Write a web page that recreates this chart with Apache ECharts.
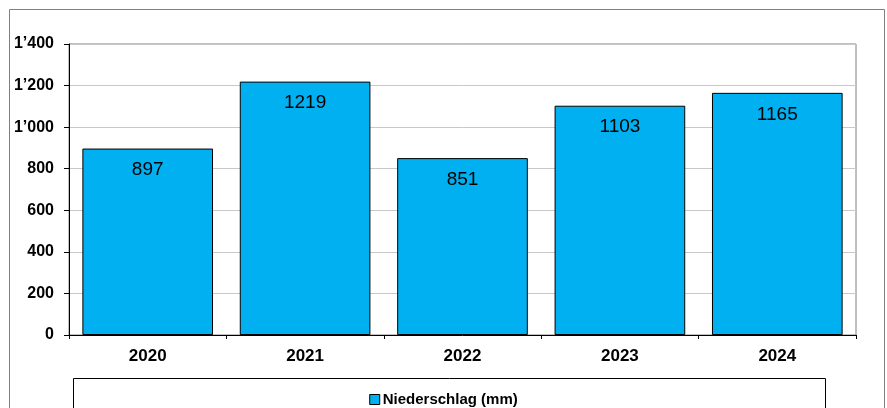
<!DOCTYPE html>
<html><head><meta charset="utf-8">
<script src="https://cdn.jsdelivr.net/npm/echarts@6/dist/echarts.min.js"></script>
<style>html,body{margin:0;padding:0;background:#fff}#c{width:887px;height:408px}</style>
</head><body><div id="c"></div>
<script>
var categories = ['2020','2021','2022','2023','2024'];
var values = [897, 1219, 851, 1103, 1165];
var seriesName = 'Niederschlag (mm)';
var yTicks = {min: 0, max: 1400, interval: 200};

function fmt(v){
  var s = String(v);
  return s.replace(/\B(?=(\d{3})+(?!\d))/g, '\u2019');
}
var FF = 'Liberation Sans, Arial, sans-serif';
var chart = echarts.init(document.getElementById('c'), null, {renderer:'canvas'});
chart.setOption({
  animation: false,
  backgroundColor: '#fff',
  graphic: [
    {type:'rect', shape:{x:9.5,y:9.5,width:875,height:420}, style:{fill:'none', stroke:'#808080', lineWidth:1}, z:-1},
    {type:'rect', shape:{x:73.5,y:378.5,width:752,height:60}, style:{fill:'#fff', stroke:'#000', lineWidth:1}, z:-1}
  ],
  grid: {left:69, top:44, right:31, bottom:73, show:true, borderColor:'#808080', borderWidth:1, backgroundColor:'transparent'},
  legend: {
    data:[seriesName], left: 'center', top: 387, itemWidth:10, itemHeight:10, itemGap:4,
    icon: 'rect',
    textStyle:{fontFamily:FF, fontWeight:'bold', fontSize:15, color:'#000', padding:[0,0,0,-2]},
    itemStyle:{borderColor:'#000', borderWidth:1}
  },
  xAxis: {
    type:'category', data: categories,
    axisLine:{show:true, lineStyle:{color:'#000', width:1}},
    axisTick:{show:true, alignWithLabel:false, length:4, lineStyle:{color:'#000'}},
    axisLabel:{fontFamily:FF, fontWeight:'bold', fontSize:17, color:'#000', margin:13},
    splitLine:{show:false}
  },
  yAxis: {
    type:'value', min:yTicks.min, max:yTicks.max, interval:yTicks.interval,
    axisLine:{show:true, lineStyle:{color:'#000', width:1}},
    axisTick:{show:true, length:5, lineStyle:{color:'#000'}},
    axisLabel:{fontFamily:FF, fontWeight:'bold', fontSize:16, color:'#000', margin:15, formatter: fmt},
    splitLine:{show:true, lineStyle:{color:'#c8c8c8', width:1}}
  },
  series: [{
    name: seriesName, type:'bar', data: values, barCategoryGap:'17%',
    itemStyle:{color:'#00B0F0', borderColor:'#000', borderWidth:1},
    label:{show:true, position:'insideTop', distance:12, fontFamily:FF, fontSize:19, color:'#000'}
  }]
});
</script></body></html>
